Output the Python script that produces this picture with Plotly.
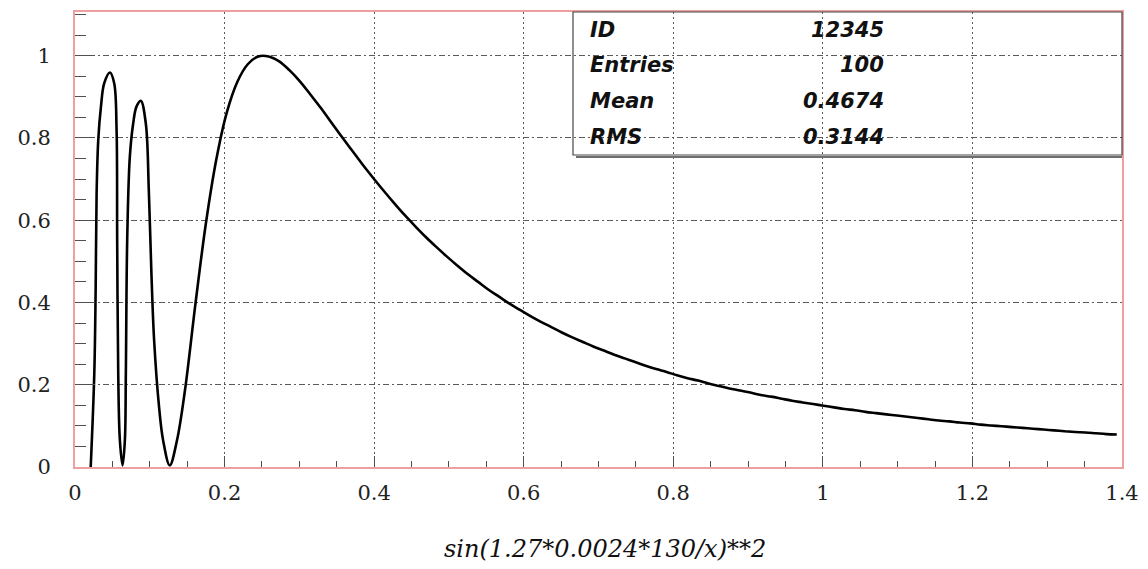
import plotly.graph_objects as go

# ---- data: curve (100 bins on [0, 1.4] drawn as a smooth curve;
#      the fast oscillations below x=0.15 are read point by point off the picture) ----
curve_x = [
    0.021, 0.0258, 0.0276, 0.0289, 0.0311, 0.0347, 0.0391, 0.0467, 0.0524,
    0.0556, 0.0564, 0.0578, 0.0600, 0.0636, 0.0667, 0.0680, 0.0698, 0.0733, 0.0778,
    0.0822, 0.0880, 0.0947, 0.0987, 0.1022, 0.1058, 0.1124, 0.1178, 0.1267, 0.1364,
    0.147, 0.161, 0.175, 0.189, 0.203, 0.217, 0.231, 0.245, 0.259, 0.273,
    0.287, 0.301, 0.315, 0.329, 0.343, 0.357, 0.371, 0.385, 0.399, 0.413,
    0.427, 0.441, 0.455, 0.469, 0.483, 0.497, 0.511, 0.525, 0.539, 0.553,
    0.567, 0.581, 0.595, 0.609, 0.623, 0.637, 0.651, 0.665, 0.679, 0.693,
    0.707, 0.721, 0.735, 0.749, 0.763, 0.777, 0.791, 0.805, 0.819, 0.833,
    0.847, 0.861, 0.875, 0.889, 0.903, 0.917, 0.931, 0.945, 0.959, 0.973,
    0.987, 1.001, 1.015, 1.029, 1.043, 1.057, 1.071, 1.085, 1.099, 1.113,
    1.127, 1.141, 1.155, 1.169, 1.183, 1.197, 1.211, 1.225, 1.239, 1.253,
    1.267, 1.281, 1.295, 1.309, 1.323, 1.337, 1.351, 1.365, 1.379, 1.393,
]
curve_y = [
    0.000, 0.227, 0.429, 0.665, 0.795, 0.876, 0.933, 0.959, 0.933,
    0.819, 0.552, 0.227, 0.065, 0.004, 0.065, 0.227, 0.552, 0.754, 0.835,
    0.876, 0.890, 0.835, 0.673, 0.470, 0.308, 0.146, 0.065, 0.004, 0.065,
    0.186, 0.396, 0.592, 0.748, 0.862, 0.936, 0.979, 0.998, 0.998, 0.986,
    0.964, 0.937, 0.905, 0.872, 0.837, 0.802, 0.768, 0.734, 0.702, 0.671,
    0.641, 0.612, 0.585, 0.559, 0.535, 0.512, 0.490, 0.469, 0.450, 0.431,
    0.414, 0.397, 0.382, 0.367, 0.353, 0.340, 0.327, 0.315, 0.304, 0.293,
    0.283, 0.273, 0.264, 0.255, 0.246, 0.238, 0.231, 0.223, 0.216, 0.210,
    0.203, 0.197, 0.191, 0.186, 0.181, 0.175, 0.171, 0.166, 0.161, 0.157,
    0.153, 0.149, 0.145, 0.141, 0.138, 0.134, 0.131, 0.128, 0.125, 0.122,
    0.119, 0.116, 0.113, 0.111, 0.108, 0.106, 0.103, 0.101, 0.099, 0.097,
    0.095, 0.093, 0.091, 0.089, 0.087, 0.085, 0.084, 0.082, 0.080, 0.079,
]
stat_names = ["ID", "Entries", "Mean", "RMS"]
stat_values = ["12345", "100", "0.4674", "0.3144"]
x_title = "sin(1.27*0.0024*130/x)**2"

# ---- layout geometry (screen pixels; page body has an 8px margin) ----
OFF = 8
W, H = 1148 - OFF, 569 - OFF
L, R, T, B = 75 - OFF, 1122 - OFF, 12 - OFF, 467 - OFF
pw, ph = R - L, B - T


def px(xs):
    return (xs - OFF - L) / pw


def py(ys):
    return (B - (ys - OFF)) / ph


pink = "rgb(238,160,160)"
grid = "rgb(90,90,90)"
tickc = "rgb(80,80,80)"

fig = go.Figure()
fig.add_trace(go.Scatter(
    x=curve_x, y=curve_y, mode="lines",
    line=dict(color="black", width=2.6, shape="spline", smoothing=1.0),
    hoverinfo="skip", showlegend=False,
))

tickfont = dict(family="DejaVu Serif", size=21, color="#222")

fig.update_layout(
    width=W, height=H,
    margin=dict(l=L, r=W - R, t=T, b=H - B, autoexpand=False),
    paper_bgcolor="white", plot_bgcolor="white",
    showlegend=False,
    xaxis=dict(
        range=[0, 1.4], dtick=0.2, tick0=0, automargin=False,
        showline=True, linecolor=pink, linewidth=2, mirror=True,
        ticks="inside", ticklen=11, tickcolor=tickc, tickwidth=1,
        minor=dict(dtick=0.05, ticks="inside", ticklen=6, tickcolor=tickc, showgrid=False),
        showgrid=True, gridcolor=grid, gridwidth=1, griddash="2px,3px",
        zeroline=False, tickfont=tickfont, ticklabelstandoff=6,
        tickformat="~g",
    ),
    yaxis=dict(
        range=[0, 1.106], dtick=0.2, tick0=0, automargin=False,
        showline=True, linecolor=pink, linewidth=2, mirror=True,
        ticks="inside", ticklen=20, tickcolor=tickc, tickwidth=1,
        minor=dict(dtick=0.05, ticks="inside", ticklen=11, tickcolor=tickc, showgrid=False),
        showgrid=True, gridcolor=grid, gridwidth=1, griddash="6px,3px,2px,3px",
        zeroline=False, tickfont=tickfont, ticklabelstandoff=18,
        tickformat="~g",
    ),
)

# stats box
fig.add_shape(type="rect", xref="paper", yref="paper",
              x0=px(573), x1=1.0, y0=py(155), y1=1.0,
              line=dict(color="rgb(70,70,70)", width=1.2), fillcolor="rgba(0,0,0,0)")
fig.add_shape(type="line", xref="paper", yref="paper",
              x0=px(576), x1=1.0, y0=py(157), y1=py(157),
              line=dict(color="rgb(110,110,110)", width=2))

row_y = [30, 65, 101, 137]
sfont = dict(family="DejaVu Sans", size=21, color="#111")
for name, val, ry in zip(stat_names, stat_values, row_y):
    fig.add_annotation(xref="paper", yref="paper", x=px(588), y=py(ry),
                       text="<b><i>%s</i></b>" % name, showarrow=False,
                       xanchor="left", yanchor="middle", font=sfont)
    fig.add_annotation(xref="paper", yref="paper", x=px(886), y=py(ry),
                       text="<b><i>%s</i></b>" % val, showarrow=False,
                       xanchor="right", yanchor="middle", font=sfont)

# x title
fig.add_annotation(xref="paper", yref="paper", x=px(605), y=py(549),
                   text="<i>%s</i>" % x_title, showarrow=False,
                   xanchor="center", yanchor="middle",
                   font=dict(family="DejaVu Serif", size=24, color="#111"))

fig.write_html("out.html")
